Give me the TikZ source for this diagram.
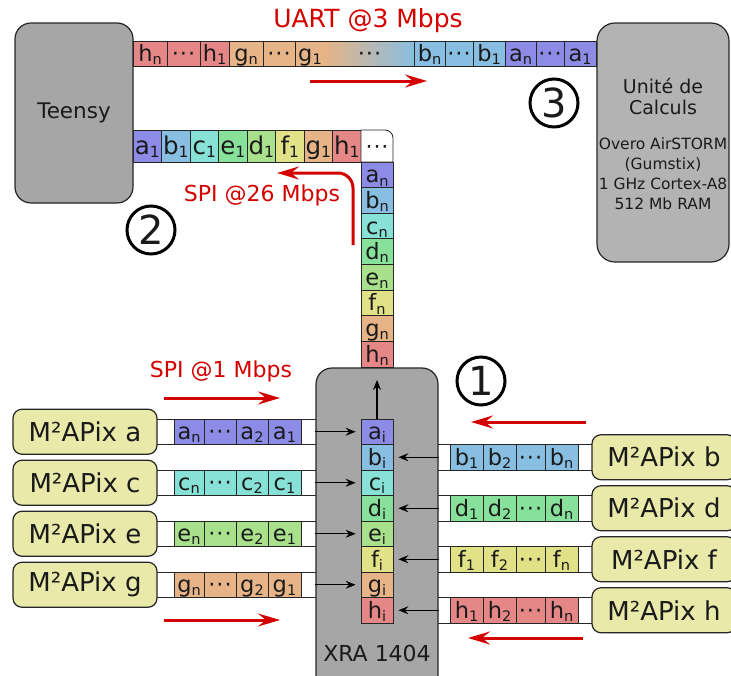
\documentclass[tikz,border=0pt]{standalone}
\usepackage{fontspec}
\setmainfont{DejaVu Sans}
\usetikzlibrary{arrows.meta}
\definecolor{ca}{HTML}{8C8CE6}
\definecolor{cb}{HTML}{87BEE1}
\definecolor{cc}{HTML}{87E1D7}
\definecolor{cd}{HTML}{87E19B}
\definecolor{ce}{HTML}{A8E08C}
\definecolor{cf}{HTML}{E1E187}
\definecolor{cg}{HTML}{E6B487}
\definecolor{ch}{HTML}{E68787}
\definecolor{sensorc}{HTML}{E9E9A9}
\definecolor{boxgray}{HTML}{A6A6A6}
\definecolor{boxgrayb}{HTML}{B3B3B3}
\definecolor{redc}{HTML}{D40000}
\definecolor{ink}{HTML}{1A1A1A}
\newcommand\cl[3][14.5]{#2{\fontsize{#1}{#1}\selectfont\raisebox{-0.22em}{#3}}}
\newcommand\dts{·\kern1pt·\kern1pt·}
\newcommand\mkcell[7]{%
  \pgfmathsetmacro\mcx{((#2)+(#3))/2}\pgfmathsetmacro\mcy{((#4)+(#5))/2}%
  \pgfmathsetmacro\mcw{(#3)-(#2)}\pgfmathsetmacro\mch{(#5)-(#4)}%
  \node[cell, fill=#6, minimum width={\mcw pt}, minimum height={\mch pt}] (#1) at (\mcx,\mcy) {#7};}
\begin{document}
\begin{tikzpicture}[x=1pt,y=-1pt,
  every node/.style={text=ink},
  cell/.style={draw=black!85, line width=0.8pt, inner sep=0pt, font=\fontsize{22.5}{22.5}\selectfont, text height=19pt, text depth=3pt},
  stripline/.style={draw=black!85, line width=0.8pt},
  graybox/.style={draw=black!85, line width=1.2pt, fill=boxgray, rounded corners=16pt, inner sep=0pt},
  sensor/.style={draw=black!85, line width=1.2pt, fill=sensorc, rounded corners=9pt, minimum width=144pt, minimum height=45pt, inner sep=0pt, font=\fontsize{26}{26}\selectfont},
  redarr/.style={draw=redc, line width=3pt, -{Stealth[length=22pt,width=13pt,inset=8pt]}},
  blk/.style={draw=black, line width=1.2pt, -{Stealth[length=10pt,width=8pt,inset=3.5pt]}},
  circ/.style={circle, draw=black, line width=3pt, minimum size=48pt, inner sep=0pt, font=\fontsize{40}{40}\selectfont},
  redtxt/.style={text=redc, inner sep=0pt}]
\useasboundingbox (0,0) rectangle (731,675);

% ---------- left strips ----------
\foreach \L/\k in {a/0,c/2,e/4,g/6} {
  \pgfmathsetmacro\ya{419+25.5*\k}\pgfmathsetmacro\yb{\ya+25.5}
  \fill[white] (157,\ya) rectangle (320,\yb);
  \draw[stripline] (157,\ya) -- (320,\ya) (157,\yb) -- (320,\yb);
  \mkcell{l\L1}{174}{204}{\ya}{\yb}{c\L}{\cl{\L}{n}}
  \mkcell{l\L2}{204}{236}{\ya}{\yb}{c\L}{\dts}
  \mkcell{l\L3}{236}{268}{\ya}{\yb}{c\L}{\cl{\L}{2}}
  \mkcell{l\L4}{268}{301}{\ya}{\yb}{c\L}{\cl{\L}{1}}
  \node[sensor] (s\L) at (85,{(\ya+\yb)/2}) {M²APix \L};
}
% ---------- right strips ----------
\foreach \L/\k in {b/1,d/3,f/5,h/7} {
  \pgfmathsetmacro\ya{419+25.5*\k}\pgfmathsetmacro\yb{\ya+25.5}
  \fill[white] (434,\ya) rectangle (592,\yb);
  \draw[stripline] (434,\ya) -- (592,\ya) (434,\yb) -- (592,\yb);
  \mkcell{r\L1}{450}{483}{\ya}{\yb}{c\L}{\cl{\L}{1}}
  \mkcell{r\L2}{483}{516}{\ya}{\yb}{c\L}{\cl{\L}{2}}
  \mkcell{r\L3}{516}{545}{\ya}{\yb}{c\L}{\dts}
  \mkcell{r\L4}{545}{578}{\ya}{\yb}{c\L}{\cl{\L}{n}}
  \node[sensor] (s\L) at (664,{(\ya+\yb)/2}) {M²APix \L};
}

% ---------- XRA ----------
\node[graybox, minimum width=122pt, minimum height=332pt] (xra) at (377,534) {};
\node[font=\fontsize{22}{22}\selectfont, inner sep=0pt] (xral) at (377,653) {XRA 1404};
\foreach \L [count=\k from 0] in {a,b,c,d,e,f,g,h} {
  \mkcell{x\L}{361}{393}{419+25.5*\k}{419+25.5*(\k+1)}{c\L}{\cl{\L}{i}}
}
\foreach \L in {a,c,e,g} \draw[blk, shorten >=5pt] (xra.west |- x\L.west) -- (x\L.west);
\foreach \L in {b,d,f,h} \draw[blk, shorten >=5pt] (xra.east |- x\L.east) -- (x\L.east);
\coordinate (xup) at (377,380);
\draw[blk] (xa.north) -- (xup);

% ---------- vertical column ----------
\foreach \L [count=\k from 0] in {a,b,c,d,e,f,g,h} {
  \mkcell{v\L}{361}{393}{162+25.625*\k}{162+25.625*(\k+1)}{c\L}{\cl{\L}{n}}
}
% ---------- second row ----------
\begin{scope}[cell/.append style={font=\fontsize{24.5}{24.5}\selectfont}]
\foreach \L/\C [count=\k from 0] in {a/ca,b/cb,c/cc,e/cd,d/ce,f/cf,g/cg,h/ch} {
  \mkcell{s2\L}{133+28.5*\k}{133+28.5*(\k+1)}{130}{162}{\C}{\cl[15.5]{\L}{1}}
}
\end{scope}
\draw[stripline, fill=white] (361,162) -- (361,130) -- (385,130) arc[start angle=-90, end angle=0, radius=8] -- (393,162) -- cycle;
\node[font=\fontsize{22}{22}\selectfont, inner sep=0pt, text height=19pt, text depth=3pt] (cornerdots) at (377,146) {\dts};

% ---------- Teensy & Unite ----------
\node[graybox, minimum width=118pt, minimum height=180pt, font=\fontsize{21.5}{21.5}\selectfont] (teensy) at (74,113) {Teensy};
\node[graybox, fill=boxgrayb, rounded corners=18pt, minimum width=132pt, minimum height=239pt] (unite) at (663,142.5) {};
\node[align=center, font=\fontsize{19}{21}\selectfont, inner sep=0pt] (ut1) at (663,97) {Unité de\\Calculs};
\node[align=center, font=\fontsize{15.5}{20}\selectfont, inner sep=0pt] (ut2) at (663,174) {Overo AirSTORM\\(Gumstix)\\1 GHz Cortex-A8\\512 Mb RAM};

% ---------- top row (UART) ----------
\mkcell{t1}{133}{167}{41}{66}{ch}{\cl{h}{n}}
\mkcell{t2}{167}{200}{41}{66}{ch}{\dts}
\mkcell{t3}{200}{229}{41}{66}{ch}{\cl{h}{1}}
\mkcell{t4}{229}{263}{41}{66}{cg}{\cl{g}{n}}
\mkcell{t5}{263}{295}{41}{66}{cg}{\dts}
\mkcell{t6}{295}{325}{41}{66}{cg}{\cl{g}{1}}
\node[cell, left color=cg, right color=cb, draw=none, minimum width=89pt, minimum height=25pt] (tg) at (369.5,53.5) {\dts};
\draw[stripline] (325,41) -- (414,41) (325,66) -- (414,66);
\mkcell{t7}{414}{445}{41}{66}{cb}{\cl{b}{n}}
\mkcell{t8}{445}{473}{41}{66}{cb}{\dts}
\mkcell{t9}{473}{505}{41}{66}{cb}{\cl{b}{1}}
\mkcell{t10}{505}{536}{41}{66}{ca}{\cl{a}{n}}
\mkcell{t11}{536}{564}{41}{66}{ca}{\dts}
\mkcell{t12}{564}{596}{41}{66}{ca}{\cl{a}{1}}

% ---------- red arrows and labels ----------
\node[redtxt, font=\fontsize{25}{25}\selectfont] (uart) at (368,21) {UART @3 Mbps};
\coordinate (ua1) at (310,81); \coordinate (ua2) at (427,81);
\draw[redarr] (ua1) -- (ua2);

\node[redtxt, font=\fontsize{22}{22}\selectfont] (spi26) at (262,195) {SPI @26 Mbps};
\coordinate (sa1) at (353,245); \coordinate (sa2) at (277,173);
\draw[redarr, rounded corners=15pt] (sa1) -- (sa1 |- sa2) -- (sa2);

\node[redtxt, font=\fontsize{22}{22}\selectfont] (spi1) at (221,371) {SPI @1 Mbps};
\coordinate (la1) at (164,398); \coordinate (la2) at (280,398);
\coordinate (lb1) at (164,620); \coordinate (lb2) at (280,620);
\coordinate (ra1) at (586,422); \coordinate (ra2) at (471,422);
\coordinate (rb1) at (583,638); \coordinate (rb2) at (468,638);
\draw[redarr] (la1) -- (la2);
\draw[redarr] (lb1) -- (lb2);
\draw[redarr] (ra1) -- (ra2);
\draw[redarr] (rb1) -- (rb2);

% ---------- circled numbers ----------
\node[circ] (c1) at (481,381) {1};
\node[circ] (c2) at (151,230) {2};
\node[circ] (c3) at (554,103) {3};
\end{tikzpicture}
\end{document}
